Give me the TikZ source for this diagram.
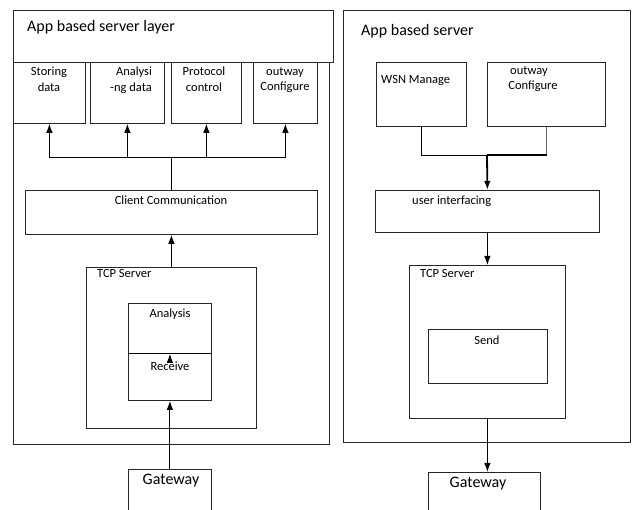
\documentclass[tikz,border=0pt]{standalone}
\usepackage{fontspec}
\setmainfont{Carlito}
\usetikzlibrary{arrows.meta,positioning}

\begin{document}
\begin{tikzpicture}[x=1pt,y=-1pt,
    box/.style={draw=black!85,line width=0.8pt,inner sep=0pt,anchor=north west},
    txt/.style={font=\fontsize{12.5}{15.5}\selectfont,inner sep=0pt,align=center},
    big/.style={font=\fontsize{16}{19}\selectfont,inner sep=0pt},
    arr/.style={line width=1pt,-{Latex[length=9pt,width=6.5pt]}}]
    \useasboundingbox (0,0) rectangle (638,510);

    % left part
    \node[box,minimum width=316pt,minimum height=382pt] (lframe) at (13,62) {};
    \node[box,minimum width=320pt,minimum height=52pt] (head) at (13,10) {};
    \node[big,anchor=west] (headtxt) at (27,27) {App based server layer};

    \node[box,minimum width=72pt,minimum height=61pt] (store) at (13,62) {};
    \node[box,minimum width=74pt,minimum height=61pt] (analy) at (90,62) {};
    \node[box,minimum width=70pt,minimum height=61pt] (proto) at (171,62) {};
    \node[box,minimum width=64pt,minimum height=61pt] (outw) at (253,62) {};
    \node[txt,anchor=north] (storetxt) at (49,67) {Storing\\data};
    \node[txt,anchor=north] (analytxt) at (131,67) {\hspace*{6pt}Analysi\\-ng data};
    \node[txt,anchor=north] (prototxt) at (204,67) {Protocol\\control};
    \node[txt,anchor=north] (outwtxt) at (285,67) {outway\\Configure};

    \node[box,minimum width=292pt,minimum height=44pt] (client) at (25,190) {};
    \node[txt,anchor=north] (clienttxt) at (171,196) {Client Communication};
    \coordinate (hub) at (171.5,158);
    \draw[line width=1.2pt] (client.north -| hub) -- (hub);
    \foreach \b in {store,analy,proto,outw}
      \draw[arr] (hub) -| (\b.south);

    \node[box,minimum width=170pt,minimum height=161pt] (tcpl) at (86,267) {};
    \node[txt,anchor=north west] (tcpltxt) at (97,269) {TCP Server};
    \draw[arr] (tcpl.north) -- (client.south);

    \node[box,minimum width=83pt,minimum height=50pt] (ana) at (128,303) {};
    \node[box,minimum width=83pt,minimum height=47pt] (recv) at (128,353) {};
    \draw[line width=1.4pt] (ana.south west) -- (ana.south east);
    \node[txt,anchor=north] (anatxt) at (170,309) {Analysis};
    \node[txt,anchor=north] (recvtxt) at (170,362) {Receive};
    \draw[arr] ([yshift=-8pt]recv.north) -- (ana.south);

    \node[box,minimum width=83pt,minimum height=46pt] (gwl) at (128,469) {};
    \node[big,anchor=north] (gwltxt) at (171,474) {Gateway};
    \draw[arr] (gwl.north) -- (recv.south);

    % right part
    \node[box,minimum width=287pt,minimum height=432pt] (rframe) at (343,10) {};
    \node[big,anchor=west] (rframetxt) at (361,31) {App based server};

    \node[box,minimum width=90pt,minimum height=64pt] (wsn) at (376,62) {};
    \node[box,minimum width=118pt,minimum height=64pt] (outr) at (487,62) {};
    \node[txt,anchor=north west] (wsntxt) at (381,75) {WSN Manage};
    \node[txt,anchor=north] (outrtxt) at (533,66) {\hspace*{-8pt}outway\\Configure};

    \node[box,minimum width=224pt,minimum height=42pt] (ui) at (375,190) {};
    \node[txt,anchor=north west] (uitxt) at (412,196) {user interfacing};
    \coordinate (jn) at (487,155);
    \draw[line width=0.9pt] (wsn.south) |- (jn);
    \draw[line width=0.9pt,black!60] (outr.south) |- (jn);
    \draw[line width=1.8pt] (jn) -- ++(60,0);
    \draw[arr,line width=1.8pt] (jn) -- (ui.north);

    \node[box,minimum width=156pt,minimum height=153pt] (tcpr) at (409,265) {};
    \node[txt,anchor=north west] (tcprtxt) at (420,269) {TCP Server};
    \draw[arr] (ui.south) -- (tcpr.north);

    \node[box,minimum width=119pt,minimum height=54pt] (send) at (428,329) {};
    \node[txt,anchor=north] (sendtxt) at (487,336) {Send};

    \node[box,minimum width=112pt,minimum height=43pt] (gwr) at (428,472) {};
    \node[big,anchor=north] (gwrtxt) at (478,477) {Gateway};
    \draw[arr] (tcpr.south) -- (tcpr.south |- gwr.north);
\end{tikzpicture}
\end{document}
